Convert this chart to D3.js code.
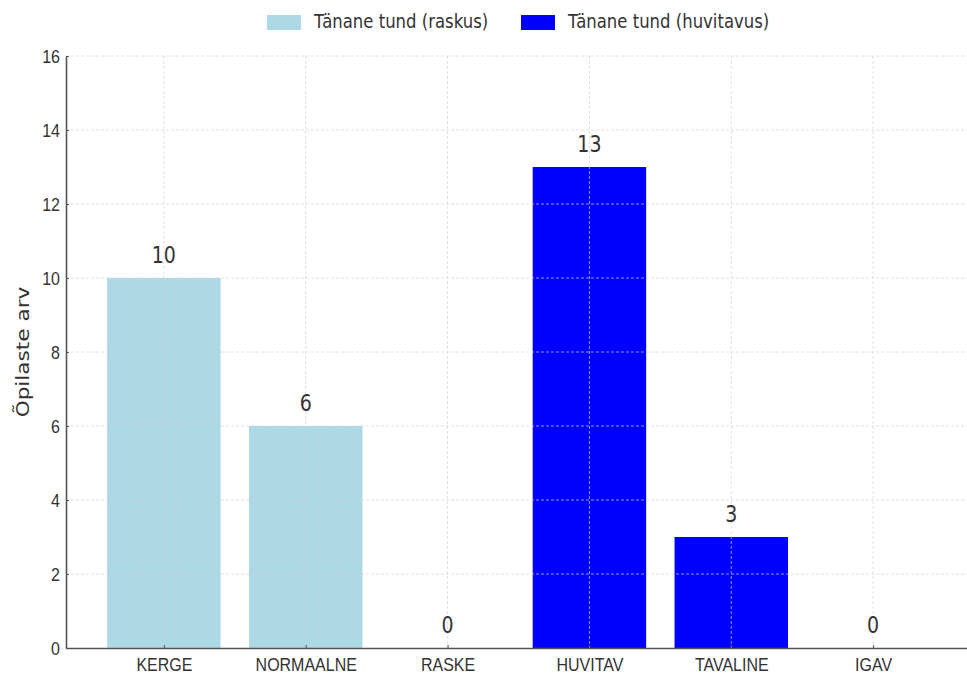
<!DOCTYPE html>
<html>
<head>
<meta charset="utf-8">
<script src="https://cdn.jsdelivr.net/npm/d3@7"></script>
<style>
  body { margin: 0; background: #fff; }
  svg { display: block; font-family: "DejaVu Sans", sans-serif; }
</style>
</head>
<body>
<svg id="chart" width="967" height="677"></svg>
<script>
// Hinnangud tänasele tunnile
const categories = ["KERGE", "NORMAALNE", "RASKE", "HUVITAV", "TAVALINE", "IGAV"];
const values = [10, 6, 0, 13, 3, 0];
const seriesOf = ["raskus", "raskus", "raskus", "huvitavus", "huvitavus", "huvitavus"];
const seriesNames = ["Tänane tund (raskus)", "Tänane tund (huvitavus)"];
const seriesKeys = ["raskus", "huvitavus"];
const seriesColors = ["#add8e6", "#0000ff"];
const yTicks = [0, 2, 4, 6, 8, 10, 12, 14, 16];

const svg = d3.select("#chart");
const margin = { left: 66, right: 0, top: 56, bottom: 29 };
const W = 967, H = 677;
const plotBottom = H - margin.bottom; // 648
const textStretch = 1.2; // glyphs are set slightly taller than wide

const color = d3.scaleOrdinal().domain(seriesKeys).range(seriesColors);

// index-based linear x scale, with margins like a bar plot
const xLin = d3.scaleLinear().domain([-0.69, 5.69]).range([margin.left, 971]);
const barW = xLin(0.4) - xLin(-0.4);
const y = d3.scaleLinear().domain([0, 16]).range([plotBottom, margin.top]);

const g = svg.append("g");

// helper: place a text with its baseline at (x, y), stretched vertically
function placeText(sel, x, yy) {
  return sel.attr("x", 0).attr("y", 0).attr("dy", null)
    .attr("transform", `translate(${x},${yy}) scale(1,${textStretch})`);
}

// bars
g.selectAll("rect.bar")
  .data(values)
  .join("rect")
  .attr("class", "bar")
  .attr("x", (d, i) => xLin(i) - barW / 2)
  .attr("width", barW)
  .attr("y", d => y(d))
  .attr("height", d => y(0) - y(d))
  .attr("fill", (d, i) => color(seriesOf[i]));

// grid (drawn above bars, faint dashed)
const grid = g.append("g").attr("stroke", "#d4d4d4").attr("stroke-width", 1)
  .attr("stroke-dasharray", "3,2").attr("opacity", 0.7);
grid.selectAll("line.h").data(yTicks.filter(t => t > 0)).join("line")
  .attr("class", "h")
  .attr("x1", margin.left).attr("x2", W)
  .attr("y1", d => y(d)).attr("y2", d => y(d));
grid.selectAll("line.v").data(categories).join("line")
  .attr("class", "v")
  .attr("x1", (d, i) => xLin(i)).attr("x2", (d, i) => xLin(i))
  .attr("y1", margin.top).attr("y2", plotBottom);

// y axis
const yAxis = d3.axisLeft(y).tickValues(yTicks).tickSizeInner(-3).tickSizeOuter(0);
const ya = g.append("g").attr("transform", `translate(${margin.left},0)`).call(yAxis);
ya.select(".domain").attr("stroke", "#555").attr("stroke-width", 1.6);
ya.selectAll(".tick line").attr("stroke", "#555");
ya.selectAll(".tick text").attr("font-size", 16).attr("fill", "#333")
  .each(function () { placeText(d3.select(this), -6, 6.5); });

// x axis
const xAxis = d3.axisBottom(xLin).tickValues(d3.range(categories.length))
  .tickFormat(i => categories[i]).tickSizeInner(-3).tickSizeOuter(0);
const xa = g.append("g").attr("transform", `translate(0,${plotBottom})`).call(xAxis);
xa.select(".domain").attr("stroke", "#555").attr("stroke-width", 1.6);
xa.selectAll(".tick line").attr("stroke", "#555");
xa.selectAll(".tick text").attr("font-size", 16).attr("fill", "#333")
  .each(function () { placeText(d3.select(this), 0, 23); });

// value labels
g.selectAll("text.val")
  .data(values)
  .join("text")
  .attr("class", "val")
  .attr("text-anchor", "middle")
  .attr("font-size", 19)
  .attr("fill", "#333")
  .text(d => d)
  .each(function (d, i) { placeText(d3.select(this), xLin(i), y(d) - 15); });

// y label
svg.append("text")
  .attr("transform", `translate(29,${(margin.top + plotBottom) / 2}) rotate(-90) scale(${textStretch},1)`)
  .attr("text-anchor", "middle")
  .attr("font-size", 18)
  .attr("fill", "#333")
  .text("Õpilaste arv");

// legend
const legendX = [267, 521];
const leg = svg.append("g");
seriesNames.forEach((name, k) => {
  leg.append("rect").attr("x", legendX[k]).attr("y", 15).attr("width", 34).attr("height", 15)
    .attr("fill", seriesColors[k]);
  placeText(leg.append("text").attr("font-size", 16.5).attr("fill", "#333").text(name),
    legendX[k] + 47, 28);
});
</script>
</body>
</html>
